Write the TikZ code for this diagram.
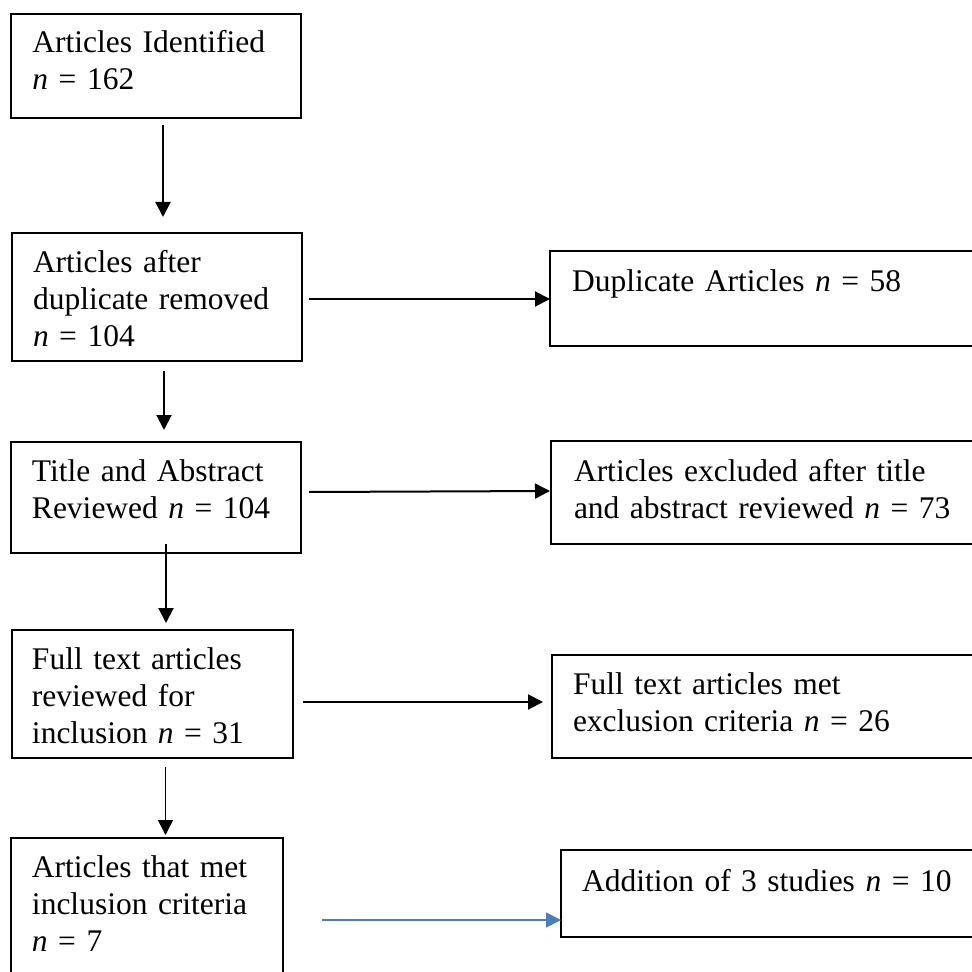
\documentclass[tikz,border=0pt]{standalone}
\usepackage{fontspec}
\setmainfont{Liberation Serif}[WordSpace=0.8]
\usetikzlibrary{arrows.meta,calc}
\definecolor{arrowblue}{HTML}{4A7EBB}
\begin{document}
\begin{tikzpicture}[x=0.5pt,y=-0.5pt,
  box/.style={rectangle, inner ysep=0pt, anchor=north west, align=left,
    font=\fontsize{15.75}{18.5}\selectfont, line width=1pt},
  closed/.style={box, draw},
  arr/.style={line width=1pt, -{Triangle[length=7.5pt,width=7.5pt]}},
  thinarr/.style={line width=0.8pt, -{Triangle[length=7.5pt,width=7.5pt]}},
  bluearr/.style={line width=0.8pt, draw=arrowblue, -{Triangle[length=7.5pt,width=7.5pt,fill=arrowblue]}},
  openbox/.style={line width=1pt, line join=miter},
]
\useasboundingbox (0,0) rectangle (972,972);
\fill[white] (0,0) rectangle (972,972);

% left column
\node[closed, inner xsep=11pt, text width=123.25pt, text height=19.65pt, text depth=32.5pt] (b1) at (9.5,12.7)
  {Articles Identified\\\textit{n} = 162};
\node[closed, inner xsep=10.5pt, text width=124pt, text height=20pt, text depth=44pt] (b2) at (11,232)
  {Articles after\\duplicate removed\\\textit{n} = 104};
\node[closed, inner xsep=10.5pt, text width=124pt, text height=19.5pt, text depth=36pt] (b4) at (10,441)
  {Title and Abstract\\Reviewed \textit{n} = 104};
\node[closed, inner xsep=10.25pt, text width=120.25pt, text height=19.5pt, text depth=44.5pt] (b6) at (10.5,629)
  {Full text articles\\reviewed for\\inclusion \textit{n} = 31};
\node[box, inner xsep=10.25pt, text width=114.75pt, text height=19pt, text depth=48pt] (b8) at (10.5,838)
  {Articles that met\\inclusion criteria\\\textit{n} = 7};
\draw[openbox] (b8.south west) -- (b8.north west) -- (b8.north east) -- (b8.south east);

% right column
\node[box, inner xsep=10.5pt, text width=190pt, text height=20pt, text depth=26.5pt] (b3) at (550,251)
  {Duplicate Articles \textit{n} = 58};
\node[box, inner xsep=11pt, text width=188.5pt, text height=19.5pt, text depth=31pt] (b5) at (551,441)
  {Articles excluded after title\\and abstract reviewed \textit{n} = 73};
\node[box, inner xsep=10pt, text width=190pt, text height=19pt, text depth=31.5pt] (b7) at (552,655)
  {Full text articles met\\exclusion criteria \textit{n} = 26};
\node[box, inner xsep=10pt, text width=185.5pt, text height=20pt, text depth=22.5pt] (b9) at (561,850)
  {Addition of 3 studies \textit{n} = 10};
\foreach \b in {b3,b5,b7,b9}
  \draw[openbox] (\b.north east) -- (\b.north west) -- (\b.south west) -- (\b.south east);

% vertical connectors
\draw[arr] ($(b1.south west)+(153.5,6)$) -- ($(b2.north west)+(152,-15)$);
\draw[arr] ($(b2.south west)+(153,9)$) -- ($(b4.north west)+(154,-11)$);
\draw[arr] ($(b4.south west)+(156,-10)$) -- ($(b6.north west)+(155.5,-6)$);
\draw[thinarr] ($(b6.south west)+(155,8)$) -- ($(b8.north west)+(155,-3)$);

% horizontal connectors
\draw[arr] ($(b2.north east)+(6,67)$) -- ($(b3.north west)+(0,48)$);
\draw[arr] ($(b4.north east)+(7,51)$) -- ($(b5.north west)+(-1,50)$);
\draw[arr] ($(b6.north east)+(9,73)$) -- ($(b7.north west)+(-9,47)$);
\draw[bluearr] ($(b8.north east)+(39,82)$) -- ($(b9.north west)+(0,70)$);
\end{tikzpicture}
\end{document}
